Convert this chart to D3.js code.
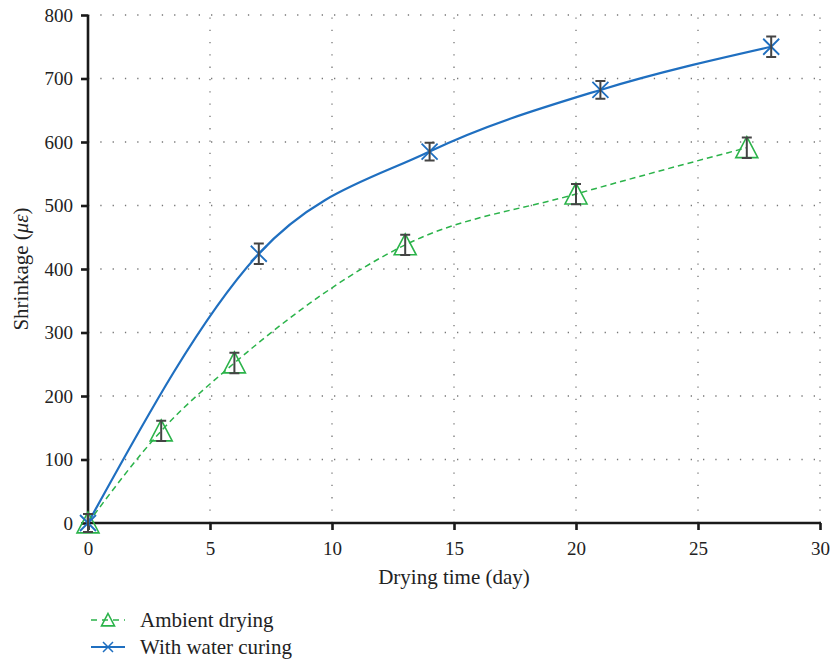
<!DOCTYPE html>
<html><head><meta charset="utf-8">
<script src="https://cdn.jsdelivr.net/npm/d3@7"></script>
<style>body{margin:0;background:#fff}svg{display:block}text{font-family:"Liberation Serif","DejaVu Serif",serif;fill:#222}</style>
</head><body>
<svg id="c" width="834" height="662"></svg>
<script>
const xTicks = [0,5,10,15,20,25,30];
const yTicks = [0,100,200,300,400,500,600,700,800];
const ambientX = [0,3,6,13,20,27];
const ambientY = [0,145,252,438,518,591];
const ambientErr = [14,16,16,16,16,16];
const waterX = [0,7,14,21,28];
const waterY = [0,424,585,682,750];
const waterErr = [14,16,14,14,16];

const svg = d3.select("#c");
const x = d3.scaleLinear().domain([0,30]).range([88,820]);
const y = d3.scaleLinear().domain([0,800]).range([523,15]);

// grid
const g = svg.append("g");
g.selectAll(".gx").data(xTicks.slice(1)).enter().append("line")
 .attr("x1",d=>x(d)).attr("x2",d=>x(d)).attr("y1",y(0)).attr("y2",y(800))
 .attr("stroke","#777").attr("stroke-width",1.3).attr("stroke-dasharray","1.3,11");
g.selectAll(".gy").data(yTicks.slice(1)).enter().append("line")
 .attr("y1",d=>y(d)).attr("y2",d=>y(d)).attr("x1",x(0)).attr("x2",x(30))
 .attr("stroke","#777").attr("stroke-width",1.3).attr("stroke-dasharray","1.3,11");

// axes
const xa = svg.append("g").attr("transform",`translate(0,${y(0)})`)
 .call(d3.axisBottom(x).tickValues(xTicks).tickSize(7).tickPadding(12).tickSizeOuter(0));
const ya = svg.append("g").attr("transform",`translate(${x(0)},0)`)
 .call(d3.axisLeft(y).tickValues(yTicks).tickSize(7).tickPadding(8).tickSizeOuter(0));
[xa,ya].forEach(a=>{
 a.attr("font-family","Liberation Serif, serif").attr("font-size",19);
 a.select(".domain").attr("stroke","#1a1a1a").attr("stroke-width",2.6);
 a.selectAll(".tick line").attr("stroke","#1a1a1a").attr("stroke-width",2.6);
 a.selectAll(".tick text").style("font-family","'Liberation Serif',serif").style("font-size","19px").attr("fill","#222");
});
xa.select(".domain").attr("d",`M${x(0)-1},0H${x(30)+1}`);
ya.select(".domain").attr("d",`M0,${y(0)+1}V${y(800)}`);

svg.append("text").attr("x",(x(0)+x(30))/2).attr("y",584).attr("text-anchor","middle")
 .style("font-size","21px").text("Drying time (day)");
const yl = svg.append("text").attr("transform",`translate(28,${(y(0)+y(800))/2}) rotate(-90)`)
 .attr("text-anchor","middle").style("font-size","21px");
yl.append("tspan").text("Shrinkage (");
yl.append("tspan").style("font-style","italic").text("με");
yl.append("tspan").text(")");

const blue = "#1f6fc0", green = "#2bb34a";
const ambient = ambientX.map((d,i)=>({x:d,y:ambientY[i],e:ambientErr[i]}));
const water = waterX.map((d,i)=>({x:d,y:waterY[i],e:waterErr[i]}));
const line = d3.line().x(d=>x(d.x)).y(d=>y(d.y)).curve(d3.curveMonotoneX);

svg.append("path").datum(ambient).attr("d",line).attr("fill","none")
 .attr("stroke",green).attr("stroke-width",1.5).attr("stroke-dasharray","6,4");
svg.append("path").datum(water).attr("d",line).attr("fill","none")
 .attr("stroke",blue).attr("stroke-width",2.2);

function tri(sel,cx,cy,s){
 sel.append("path").attr("d",`M${cx},${cy-s*0.5}L${cx+s/2},${cy+s*0.45}L${cx-s/2},${cy+s*0.45}Z`)
  .attr("fill","none").attr("stroke",green).attr("stroke-width",1.6);
}
function cross(sel,cx,cy,s,w){
 sel.append("path").attr("d",`M${cx-s},${cy-s}L${cx+s},${cy+s}M${cx-s},${cy+s}L${cx+s},${cy-s}`)
  .attr("stroke",blue).attr("stroke-width",w||1.8);
}
function err(sel,d){
 const cx=x(d.x), t=y(d.y+d.e), b=y(d.y-d.e);
 sel.append("path").attr("d",`M${cx},${t}V${b}M${cx-5},${t}H${cx+5}M${cx-5},${b}H${cx+5}`)
  .attr("stroke","#444").attr("stroke-width",2).attr("fill","none");
}
const mk = svg.append("g");
ambient.forEach(d=>{ tri(mk,x(d.x),y(d.y),22); err(mk,d); });
water.forEach(d=>{ cross(mk,x(d.x),y(d.y),8); err(mk,d); });

// legend
const lg = svg.append("g");
lg.append("line").attr("x1",91).attr("x2",125).attr("y1",620).attr("y2",620)
 .attr("stroke",green).attr("stroke-width",1.5).attr("stroke-dasharray","6,5");
tri(lg,108,620,13);
lg.append("text").attr("x",140).attr("y",627).style("font-size","21px").text("Ambient drying");
lg.append("line").attr("x1",91).attr("x2",125).attr("y1",647).attr("y2",647)
 .attr("stroke",blue).attr("stroke-width",1.8);
cross(lg,108,647,5,1.5);
lg.append("text").attr("x",140).attr("y",654).style("font-size","21px").text("With water curing");
</script>
</body></html>
